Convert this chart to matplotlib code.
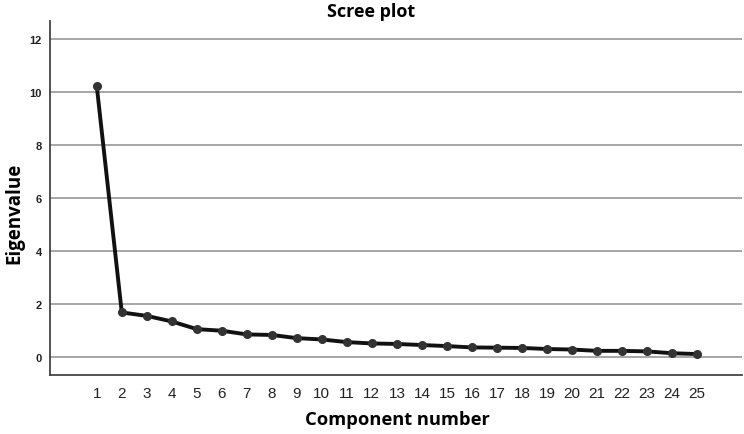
import matplotlib
matplotlib.use("Agg")
import matplotlib.pyplot as plt

components = list(range(1, 26))
eigenvalues = [10.22, 1.68, 1.55, 1.34, 1.05, 0.99, 0.85, 0.83, 0.71, 0.66,
               0.56, 0.51, 0.49, 0.45, 0.41, 0.36, 0.35, 0.34, 0.30, 0.28,
               0.23, 0.23, 0.21, 0.14, 0.11]
yticks = [0, 2, 4, 6, 8, 10, 12]

W, H = 744, 435
fig = plt.figure(figsize=(W / 100, H / 100), dpi=100)
ax = fig.add_axes([50 / W, 1 - 375.7 / H, 692 / W, (375.7 - 22) / H])

ax.plot(components, eigenvalues, color="#111111", lw=2.8, marker="o",
        markersize=5.5, markerfacecolor="#333333", markeredgecolor="#333333",
        zorder=3, solid_joinstyle="round")

ax.set_xlim(-0.87, 26.8)
ax.set_ylim(-0.67, 12.68)
ax.set_yticks(yticks)
ax.set_xticks(components)
ax.set_yticklabels([str(v) for v in yticks], fontsize=8, fontweight="bold",
                   family="Liberation Sans", color="#222222")
ax.set_xticklabels([str(c) for c in components], fontsize=11,
                   family="Liberation Sans", color="#222222")
ax.tick_params(axis="both", length=0)
ax.tick_params(axis="y", pad=6)
ax.tick_params(axis="x", pad=8)

ax.grid(axis="y", color="#a6a6a6", lw=1.4)
ax.set_axisbelow(True)
for s in ["top", "right"]:
    ax.spines[s].set_visible(False)
for s in ["left", "bottom"]:
    ax.spines[s].set_color("#444444")
    ax.spines[s].set_linewidth(1.3)

fig.text(371.5 / W, 1 - 12 / H, "Scree plot", fontsize=13, fontweight="bold",
         family="Open Sans", ha="center", va="center")
fig.text(397 / W, 1 - 420 / H, "Component number", fontsize=13.2,
         fontweight="bold", family="Open Sans", ha="center", va="center")
fig.text(14 / W, 1 - 213 / H, "Eigenvalue", fontsize=13.5,
         fontweight="bold", family="Open Sans", ha="center", va="center",
         rotation=90)

fig.savefig("out.png", dpi=100)
